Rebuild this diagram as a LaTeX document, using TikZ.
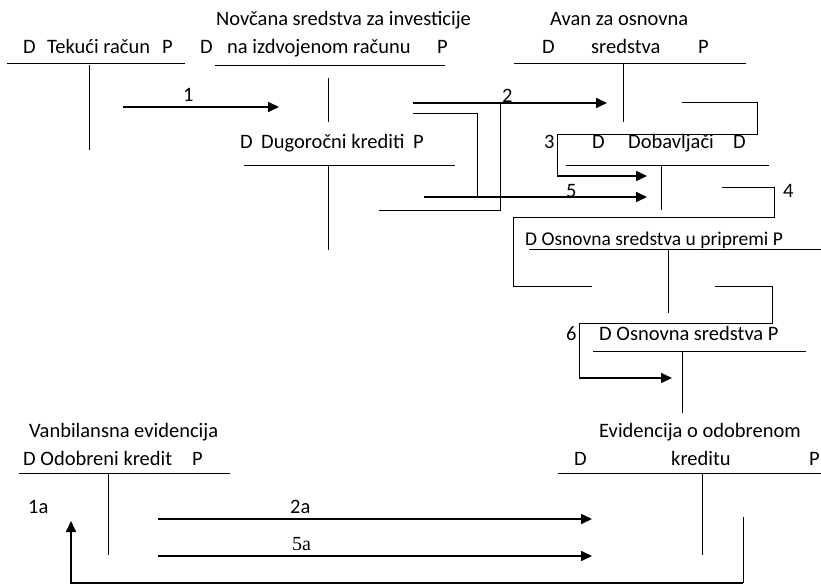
\documentclass[tikz,border=0pt]{standalone}
\usepackage{fontspec}
\setmainfont{Carlito}
\newfontfamily\serifnum{Liberation Serif}
\usetikzlibrary{arrows.meta}
\begin{document}
\begin{tikzpicture}[x=1pt,y=-1pt,
  lbl/.style={inner sep=0pt, anchor=base west, font=\fontsize{20.5}{24}\selectfont},
  tline/.style={line width=1pt},
  conn/.style={line width=1pt},
  thick/.style={line width=1.7pt},
  arr/.style={line width=1.7pt, -{Triangle[length=11pt,width=10pt]}}]
\useasboundingbox[fill=white] (0,0) rectangle (821,586);

% Tekuci racun
\node[lbl] (tkD) at (23,54) {D};
\node[lbl] (tkT) at (47,54) {Tekući račun};
\node[lbl] (tkP) at (162,54) {P};
\draw[tline] (7,63) -- (185,63);
\draw[tline] (89,65) -- (89,150);

% Novcana sredstva
\node[lbl] (nsT1) at (216,26) {Novčana sredstva za investicije};
\node[lbl] (nsD) at (200,54) {D};
\node[lbl] (nsT2) at (227,54) {na izdvojenom računu};
\node[lbl] (nsP) at (437,54) {P};
\draw[tline] (215,65) -- (445,65);
\draw[tline] (328,78) -- (328,122);

% Avans
\node[lbl] (avT1) at (550,26) {Avan za osnovna};
\node[lbl] (avD) at (542,54) {D};
\node[lbl] (avT2) at (591,54) {sredstva};
\node[lbl] (avP) at (698,54) {P};
\draw[tline] (514,63) -- (746,63);
\draw[tline] (623,63) -- (623,122);

% Dugorocni krediti
\node[lbl] (dkD) at (240,148) {D};
\node[lbl] (dkT) at (261,148) {Dugoročni krediti};
\node[lbl] (dkP) at (413,148) {P};
\draw[tline] (244,165) -- (455,165);
\draw[tline] (328,165) -- (328,250);

% Dobavljaci
\node[lbl] (l3) at (544,148) {3};
\node[lbl] (dbD) at (592,148) {D};
\node[lbl] (dbT) at (628,148) {Dobavljači};
\node[lbl] (dbP) at (733,148) {D};
\draw[tline] (566,165) -- (769,165);
\draw[tline] (661,165) -- (661,210);

% Osnovna sredstva u pripremi
\node[lbl, font=\fontsize{19.5}{23}\selectfont] (opT) at (525,245) {D Osnovna sredstva u pripremi P};
\draw[tline] (529,249) -- (821,249);
\draw[tline] (668,249) -- (668,313);

% Osnovna sredstva
\node[lbl] (l6) at (566,340) {6};
\node[lbl] (osT) at (599,340) {D Osnovna sredstva P};
\draw[tline] (593,351) -- (806,351);
\draw[tline] (682,351) -- (682,413);

% Evidencija o odobrenom kreditu
\node[lbl] (evT1) at (599,437) {Evidencija o odobrenom};
\node[lbl] (evD) at (574,465) {D};
\node[lbl] (evT2) at (671,465) {kreditu};
\node[lbl] (evP) at (809,465) {P};
\draw[tline] (558,473) -- (821,473);
\draw[tline] (702,473) -- (702,555);

% Vanbilansna evidencija
\node[lbl] (vbT1) at (29,437) {Vanbilansna evidencija};
\node[lbl] (vbT2) at (23,465) {D Odobreni kredit};
\node[lbl] (vbP) at (192,465) {P};
\draw[tline] (19,473) -- (230,473);
\draw[tline] (108,473) -- (108,555);

% labels
\node[lbl] (l1) at (183,101) {1};
\node[lbl] (l2) at (502,102) {2};
\node[lbl] (l4) at (783,197) {4};
\node[lbl] (l5) at (566,197) {5};
\node[lbl] (l1a) at (28,513) {1a};
\node[lbl] (l2a) at (290,513) {2a};
\node[lbl, font=\fontsize{20}{24}\serifnum] (l5a) at (292,550) {5a};

% 1
\draw[arr] (123,107) -- (279,107);
% 2
\draw[arr] (413,103) -- (607,103);
\draw[conn] (379,210) -- (500,210) -- (500,103);
% 5
\draw[conn] (413,113) -- (477,113) -- (477,197);
\draw[arr] (424,197) -- (647,197);
% 3
\draw[conn] (682,102) -- (757,102) -- (757,134) -- (557,134) -- (557,176);
\draw[arr] (557,176) -- (647,176);
% 4
\draw[conn] (722,187) -- (774,187) -- (774,217) -- (513,217) -- (513,286) -- (592,286);
% 6
\draw[conn] (715,286) -- (772,286) -- (772,323) -- (579,323) -- (579,378);
\draw[arr] (579,378) -- (672,378);
% 2a, 5a
\draw[arr] (158,519) -- (592,519);
\draw[arr] (158,556) -- (592,556);
% 1a
\draw[conn] (743,517) -- (743,583);
\draw[arr] (743,583) -- (71,583) -- (71,521);
\end{tikzpicture}
\end{document}
